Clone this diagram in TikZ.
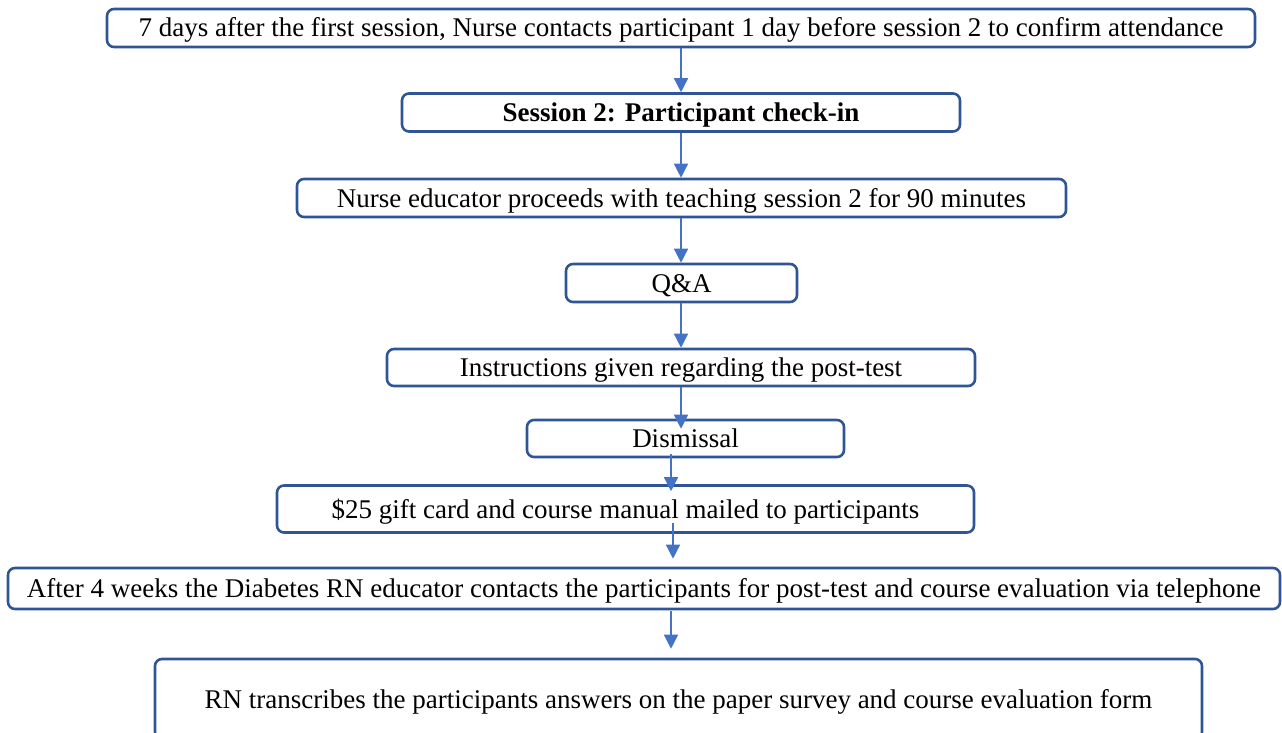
\documentclass[tikz,border=0pt]{standalone}
\usepackage{fontspec}
\setmainfont{Liberation Serif}
\usetikzlibrary{arrows.meta}
\definecolor{boxblue}{HTML}{2F5597}
\definecolor{arrblue}{HTML}{4472C4}
\begin{document}
\begin{tikzpicture}[x=1pt,y=-1pt,
  flowbox/.style={draw=boxblue, line width=2.6pt, rounded corners=7pt, fill=white,
    inner sep=0pt, text height=18pt, text depth=0pt, font=\fontsize{27}{31}\selectfont},
  arr/.style={draw=arrblue, line width=1.5pt, -{Triangle[width=14pt,length=14pt]}}]
\useasboundingbox (0,0) rectangle (1282,733);
\node[flowbox, minimum width=1148pt, minimum height=38pt] (b1) at (681,28) {7 days after the first session, Nurse contacts participant 1 day before session 2 to confirm attendance};
\node[flowbox, minimum width=558pt, minimum height=38pt, font=\fontsize{27}{31}\selectfont\bfseries] (b2) at (681,112.5) {Session 2: Participant check-in};
\node[flowbox, minimum width=769pt, minimum height=38pt] (b3) at (681.5,198) {Nurse educator proceeds with teaching session 2 for 90 minutes};
\node[flowbox, minimum width=231pt, minimum height=38pt] (b4) at (681.5,283) {Q\&A};
\node[flowbox, minimum width=588pt, minimum height=37pt] (b5) at (681,367.5) {Instructions given regarding the post-test};
\node[flowbox, minimum width=317pt, minimum height=37pt] (b6) at (685.5,438.5) {Dismissal};
\node[flowbox, minimum width=697pt, minimum height=47pt] (b7) at (625.5,509) {\$25 gift card and course manual mailed to participants};
\node[flowbox, minimum width=1272pt, minimum height=41pt] (b8) at (644,588.5) {After 4 weeks the Diabetes RN educator contacts the participants for post-test and course evaluation via telephone};
\node[flowbox, minimum width=1047pt, minimum height=80pt] (b9) at (678.5,699) {RN transcribes the participants answers on the paper survey and course evaluation form};
\coordinate (xa) at (681,0);
\coordinate (xb) at (671,0);
\coordinate (xc) at (673,0);
\draw[arr] (b1.south -| xa) -- (b2.north -| xa);
\draw[arr] (b2.south -| xa) -- (b3.north -| xa);
\draw[arr] (b3.south -| xa) -- (b4.north -| xa);
\draw[arr] (b4.south -| xa) -- (b5.north -| xa);
\draw[arr] (b5.south -| xa) -- ([yshift=-10pt]b6.north -| xa);
\draw[arr] ([yshift=4pt]b6.south -| xb) -- ([yshift=-7pt]b7.north -| xb);
\draw[arr] ([yshift=11pt]b7.south -| xc) -- ([yshift=8pt]b8.north -| xc);
\draw[arr] ([yshift=-1pt]b8.south -| xb) -- ([yshift=9pt]b9.north -| xb);
\end{tikzpicture}
\end{document}
